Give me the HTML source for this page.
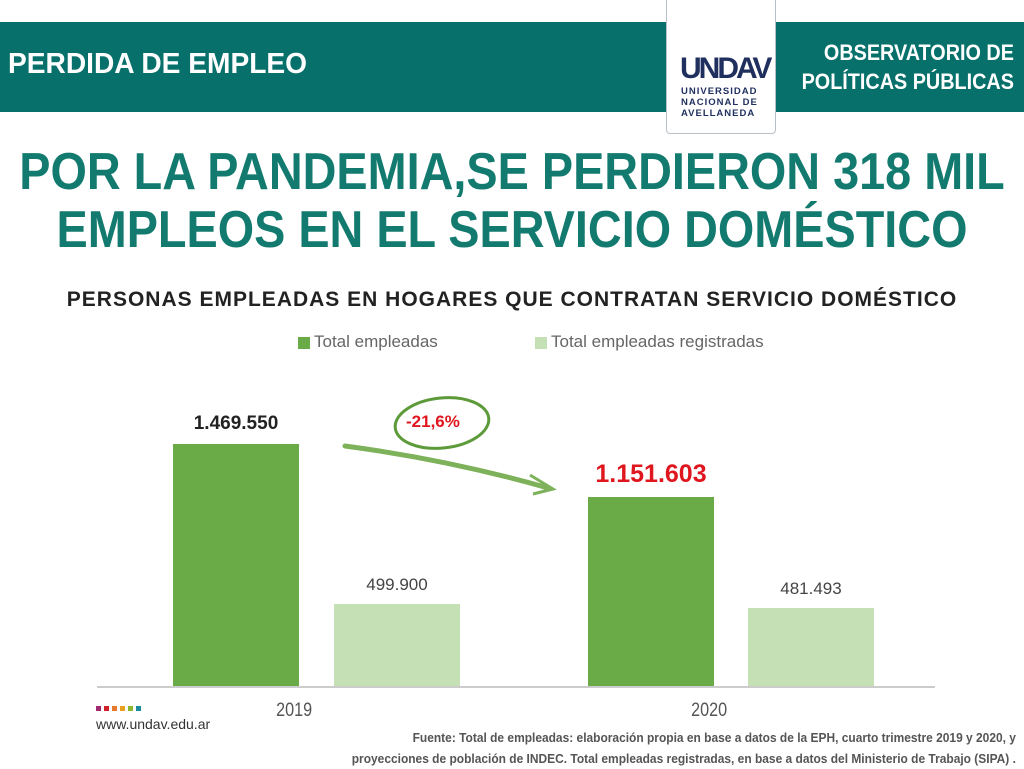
<!DOCTYPE html>
<html><head><meta charset="utf-8"><style>
body{margin:0;width:1024px;height:768px;background:#fff;position:relative;overflow:hidden;font-family:"Liberation Sans",sans-serif}
.a{position:absolute}
.band{left:0;top:22px;width:1024px;height:90px;background:#07706a}
.t{position:absolute;left:512px;white-space:nowrap;transform:translateX(-50%) scaleX(0.9);color:#137a6f;font-size:52px;font-weight:bold;line-height:58px}
</style></head><body>
<div class="a band"></div>
<div class="a" style="left:8px;top:48px;color:#fff;font-size:29px;font-weight:bold;transform:scaleX(0.97);transform-origin:left;white-space:nowrap">PERDIDA DE EMPLEO</div>
<div class="a" style="left:666px;top:0;width:108px;height:133px;background:#fff;border:1px solid #b8c0c8;border-top:none;border-radius:0 0 4px 4px"></div>
<div class="a" style="left:680px;top:52px;color:#1f2f5e;font-size:30px;font-weight:bold;letter-spacing:-3px;white-space:nowrap">UNDAV</div>
<div class="a" style="left:681px;top:86px;color:#1f2f5e;font-size:9.5px;font-weight:bold;line-height:11px;letter-spacing:1px">UNIVERSIDAD<br>NACIONAL DE<br>AVELLANEDA</div>
<div class="a" style="right:10px;top:38px;color:#fff;font-size:22px;font-weight:bold;line-height:29px;text-align:right;transform:scaleX(0.9);transform-origin:right;white-space:nowrap">OBSERVATORIO DE<br>POLÍTICAS PÚBLICAS</div>
<div class="t" style="top:143px">POR LA PANDEMIA,SE PERDIERON 318 MIL</div>
<div class="t" style="top:201px">EMPLEOS EN EL SERVICIO DOMÉSTICO</div>
<div class="a" style="left:0;width:1024px;top:288px;text-align:center;color:#222;font-size:21px;font-weight:bold;letter-spacing:1px;white-space:nowrap">PERSONAS EMPLEADAS EN HOGARES QUE CONTRATAN SERVICIO DOMÉSTICO</div>
<div class="a" style="left:298px;top:337px;width:12px;height:12px;background:#6aab47"></div>
<div class="a" style="left:314px;top:332px;font-size:17px;color:#666">Total empleadas</div>
<div class="a" style="left:535px;top:337px;width:12px;height:12px;background:#c5e0b4"></div>
<div class="a" style="left:551px;top:332px;font-size:17px;color:#666">Total empleadas registradas</div>
<div class="a" style="left:173px;top:444px;width:126px;height:242px;background:#6aab47"></div>
<div class="a" style="left:334px;top:604px;width:126px;height:82px;background:#c5e0b4"></div>
<div class="a" style="left:588px;top:497px;width:126px;height:189px;background:#6aab47"></div>
<div class="a" style="left:748px;top:608px;width:126px;height:78px;background:#c5e0b4"></div>
<div class="a" style="left:97px;top:686px;width:838px;height:2px;background:#ccc"></div>
<div class="a" style="left:173px;width:126px;top:413px;text-align:center;font-size:19px;font-weight:bold;color:#222">1.469.550</div>
<div class="a" style="left:334px;width:126px;top:575px;text-align:center;font-size:17px;color:#444">499.900</div>
<div class="a" style="left:568px;width:166px;top:460px;text-align:center;font-size:25px;font-weight:bold;color:#e0161e">1.151.603</div>
<div class="a" style="left:748px;width:126px;top:579px;text-align:center;font-size:17px;color:#444">481.493</div>
<div class="a" style="left:273px;top:700px;font-size:19px;color:#555;transform:scaleX(0.85)">2019</div>
<div class="a" style="left:688px;top:700px;font-size:19px;color:#555;transform:scaleX(0.85)">2020</div>
<div class="a" style="left:406px;top:412px;font-size:17px;font-weight:bold;color:#e0161e">-21,6%</div>
<svg class="a" style="left:0;top:0" width="1024" height="768">
<ellipse cx="442" cy="423" rx="47" ry="25" fill="none" stroke="#5d9a3a" stroke-width="3" transform="rotate(-6 442 423)"/>
<path d="M345 446 Q450 460 548 488" fill="none" stroke="#7eb25a" stroke-width="5" stroke-linecap="round"/>
<path d="M530 475 L553 489 L533 494" fill="none" stroke="#7eb25a" stroke-width="3"/>
<rect x="96" y="706" width="5" height="5" fill="#a02a6e"/><rect x="104" y="706" width="5" height="5" fill="#d0202a"/><rect x="112" y="706" width="5" height="5" fill="#e8782a"/><rect x="120" y="706" width="5" height="5" fill="#e8a020"/><rect x="128" y="706" width="5" height="5" fill="#8ab830"/><rect x="136" y="706" width="5" height="5" fill="#1a8aa0"/>
</svg>
<div class="a" style="left:96px;top:716px;font-size:14px;color:#333">www.undav.edu.ar</div>
<div class="a" style="right:8px;top:727px;font-size:13px;font-weight:bold;color:#555;text-align:right;line-height:21px;transform:scaleX(0.92);transform-origin:right;white-space:nowrap">Fuente: Total de empleadas: elaboración propia en base a datos de la EPH, cuarto trimestre 2019 y 2020, y<br>proyecciones de población de INDEC. Total empleadas registradas, en base a datos del Ministerio de Trabajo (SIPA) .</div>
</body></html>
